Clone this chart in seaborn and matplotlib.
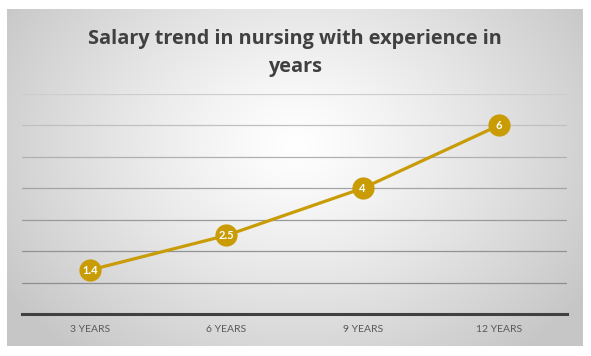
import numpy as np
import pandas as pd
import matplotlib
matplotlib.use("Agg")
import matplotlib.pyplot as plt
import seaborn as sns

categories = ["3 YEARS", "6 YEARS", "9 YEARS", "12 YEARS"]
values = [1.4, 2.5, 4, 6]
labels = ["1.4", "2.5", "4", "6"]
title = "Salary trend in nursing with experience in\nyears"

df = pd.DataFrame({"exp": categories, "salary": values})

sns.set_theme(style="white")
plt.rcParams["font.family"] = ["Lato", "DejaVu Sans"]

W, H = 591, 356
fig = plt.figure(figsize=(W / 100, H / 100), dpi=100)
fig.patch.set_facecolor("white")

# background box with radial gradient
bx0, by0, bx1, by1 = 7, 9, 583, 346
bg = fig.add_axes([bx0 / W, 1 - by1 / H, (bx1 - bx0) / W, (by1 - by0) / H])
ny, nx = 200, 340
yy, xx = np.mgrid[0:ny, 0:nx]
cx, cy = nx * 0.5, ny * 0.4
r = np.sqrt(((xx - cx) / (nx * 0.6)) ** 2 + ((yy - cy) / (ny * 0.8)) ** 2)
r = np.clip(r, 0, 1)
val = 1.0 - 0.22 * r ** 1.2
img = np.dstack([val, val, val])
bg.imshow(img, aspect="auto", extent=[0, 1, 0, 1], interpolation="bilinear")
bg.set_axis_off()

# plot axes
ax_l, ax_r, ax_t, ax_b = 22, 567, 94, 314
ax = fig.add_axes([ax_l / W, 1 - ax_b / H, (ax_r - ax_l) / W, (ax_b - ax_t) / H])
ax.patch.set_alpha(0)

gold = "#C99C06"
sns.lineplot(data=df, x="exp", y="salary", ax=ax, color=gold, linewidth=2.3,
             marker="o", markersize=16, markeredgewidth=0, sort=False)

ax.set_xlim(-0.5, 3.5)
ax.set_ylim(0, 7)
ax.set_yticks(range(1, 8))
ax.set_yticklabels([])
ax.tick_params(axis="y", length=0)
ax.grid(axis="y", color="#9e9e9e", linewidth=0.9)
grid_cols = ["#8e8e8e", "#939393", "#9a9a9a", "#a4a4a4", "#b0b0b0", "#c0c0c0", "#cdcdcd"]
for gl, c in zip(ax.get_ygridlines(), grid_cols):
    gl.set_color(c)
ax.set_axisbelow(True)
ax.tick_params(axis="x", length=0, pad=8, labelsize=7.5, labelcolor="#595959")
ax.set_xlabel("")
ax.set_ylabel("")
for s in ["top", "right", "left"]:
    ax.spines[s].set_visible(False)
ax.spines["bottom"].set_color("#404040")
ax.spines["bottom"].set_linewidth(2.2)

for i, (v, lab) in enumerate(zip(values, labels)):
    ax.text(i, v, lab, ha="center", va="center", color="white",
            fontsize=8, fontweight="bold")

fig.text(295 / W, 1 - 53 / H, title, ha="center", va="center",
         fontsize=14.3, fontweight="bold", color="#404040", linespacing=1.5,
         family=["Open Sans", "DejaVu Sans"])

fig.savefig("out.png", dpi=100)
